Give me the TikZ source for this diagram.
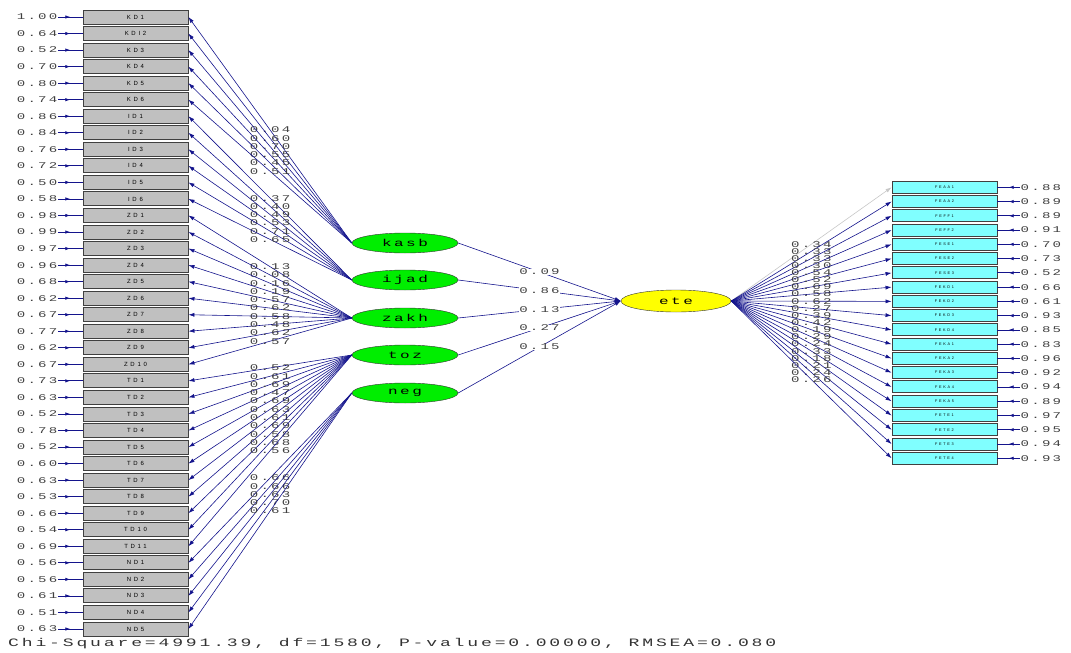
\documentclass[tikz,border=0pt]{standalone}
\usepackage{fontspec}
\newfontfamily\lisnum[FakeStretch=1.6,LetterSpace=25]{Liberation Mono}
\newfontfamily\lislab[LetterSpace=45]{Liberation Sans}
\usetikzlibrary{arrows.meta,shapes.geometric,decorations.markings}
\definecolor{pathblue}{RGB}{20,20,140}
\definecolor{boxgray}{RGB}{192,192,192}
\definecolor{boxcyan}{RGB}{128,255,255}
\definecolor{latgreen}{RGB}{0,238,0}
\definecolor{latyellow}{RGB}{255,255,0}
\tikzset{
  obsbox/.style={draw=black!75,fill=boxgray,line width=0.9pt,minimum width=105pt,
    minimum height=14pt,inner sep=0pt,font=\lislab\fontsize{6}{6}\selectfont},
  obsboxr/.style={draw=black!75,fill=boxcyan,line width=0.9pt,minimum width=105pt,
    minimum height=12pt,inner sep=0pt,font=\lislab\fontsize{3.8}{4}\selectfont},
  latent/.style={ellipse,draw=black!80,fill=latgreen,minimum width=106pt,
    minimum height=20pt,inner sep=0pt,font=\lisnum\fontsize{10}{11}\selectfont},
  errval/.style={inner sep=0.5pt,text=black!75,font=\lisnum\fontsize{8.8}{9}\selectfont},
  loadval/.style={inner sep=0.5pt,text=black!75,font=\lisnum\fontsize{8.8}{9}\selectfont},
  pathval/.style={loadval,fill=white},
  loadarrow/.style={draw=pathblue,line width=0.6pt,-{Latex[length=6pt,width=4pt]}},
  errarrow/.style={draw=pathblue,line width=0.8pt,
    decoration={markings,mark=at position 0.5 with {\arrow{Latex[length=5pt,width=3.5pt]}}},
    postaction={decorate}}
}
\begin{document}
\begin{tikzpicture}[x=1pt,y=-1pt]
\useasboundingbox (0,0) rectangle (1071,653);
% latent variables
\node[latent] (kasb) at (405,243) {kasb};
\node[latent] (ijad) at (405,280) {ijad};
\node[latent] (zakh) at (405,318) {zakh};
\node[latent] (toz) at (405,355) {toz};
\node[latent] (neg) at (405,393) {neg};
\node[latent,fill=latyellow,minimum width=110pt,minimum height=22pt] (ete) at (676,301) {ete};
% left indicators
\foreach \name/\err/\lat/\lam [count=\i] in {KD1/1.00/kasb/0.04,KDI2/0.64/kasb/0.60,
  KD3/0.52/kasb/0.70,KD4/0.70/kasb/0.55,KD5/0.80/kasb/0.45,KD6/0.74/kasb/0.51,
  ID1/0.86/ijad/0.37,ID2/0.84/ijad/0.40,ID3/0.76/ijad/0.49,ID4/0.72/ijad/0.53,
  ID5/0.50/ijad/0.71,ID6/0.58/ijad/0.65,ZD1/0.98/zakh/0.13,ZD2/0.99/zakh/0.08,
  ZD3/0.97/zakh/0.16,ZD4/0.96/zakh/0.19,ZD5/0.68/zakh/0.57,ZD6/0.62/zakh/0.62,
  ZD7/0.67/zakh/0.58,ZD8/0.77/zakh/0.48,ZD9/0.62/zakh/0.62,ZD10/0.67/zakh/0.57,
  TD1/0.73/toz/0.52,TD2/0.63/toz/0.61,TD3/0.52/toz/0.69,TD4/0.78/toz/0.47,
  TD5/0.52/toz/0.69,TD6/0.60/toz/0.63,TD7/0.63/toz/0.61,TD8/0.53/toz/0.69,
  TD9/0.66/toz/0.58,TD10/0.54/toz/0.68,TD11/0.69/toz/0.56,ND1/0.56/neg/0.66,
  ND2/0.56/neg/0.66,ND3/0.61/neg/0.63,ND4/0.51/neg/0.70,ND5/0.63/neg/0.61}{
  \pgfmathsetmacro\y{17+16.54*(\i-1)}
  \node[obsbox] (L\i) at (135.5,\y) {\name};
  \node[errval,anchor=east] (eL\i) at (58,\y) {\err};
  \draw[errarrow] (eL\i.east) -- (L\i.west);
  \draw[loadarrow] (\lat.west) -- node[loadval]{\lam} (L\i.east);
}
% structural paths
\draw[loadarrow] (kasb.east) -- node[pathval]{0.09} (ete.west);
\draw[loadarrow] (ijad.east) -- node[pathval]{0.86} (ete.west);
\draw[loadarrow] (zakh.east) -- node[pathval]{0.13} (ete.west);
\draw[loadarrow] (toz.east) -- node[pathval]{0.27} (ete.west);
\draw[loadarrow] (neg.east) -- node[pathval]{0.15} (ete.west);
% right indicators
\foreach \name/\lam/\err [count=\i] in {FEAA1/0.34/0.88,FEAA2/0.33/0.89,
  FEFF1/0.33/0.89,FEFF2/0.30/0.91,FESE1/0.54/0.70,FESE2/0.52/0.73,FESE3/0.69/0.52,
  FEKD1/0.58/0.66,FEKD2/0.62/0.61,FEKD3/0.27/0.93,FEKD4/0.39/0.85,FEKA1/0.42/0.83,
  FEKA2/0.19/0.96,FEKA3/0.29/0.92,FEKA4/0.24/0.94,FEKA5/0.33/0.89,FETE1/0.18/0.97,
  FETE2/0.21/0.95,FETE3/0.24/0.94,FETE4/0.26/0.93}{
  \pgfmathsetmacro\y{187.3+14.26*(\i-1)}
  \ifnum\i=1 \def\lc{black!22}\else\def\lc{pathblue}\fi
  \node[obsboxr] (R\i) at (944.5,\y) {\name};
  \node[errval,anchor=west] (eR\i) at (1020,\y) {\err};
  \draw[errarrow] (eR\i.west) -- (R\i.east);
  \draw[loadarrow,draw=\lc] (ete.east) -- node[loadval]{\lam} (R\i.west);
}
\node[anchor=west,inner sep=0pt,text=black!80,font=\lisnum\fontsize{11.3}{12}\selectfont] (fit)
  at (8,644) {Chi-Square=4991.39, df=1580, P-value=0.00000, RMSEA=0.080};
\end{tikzpicture}
\end{document}
